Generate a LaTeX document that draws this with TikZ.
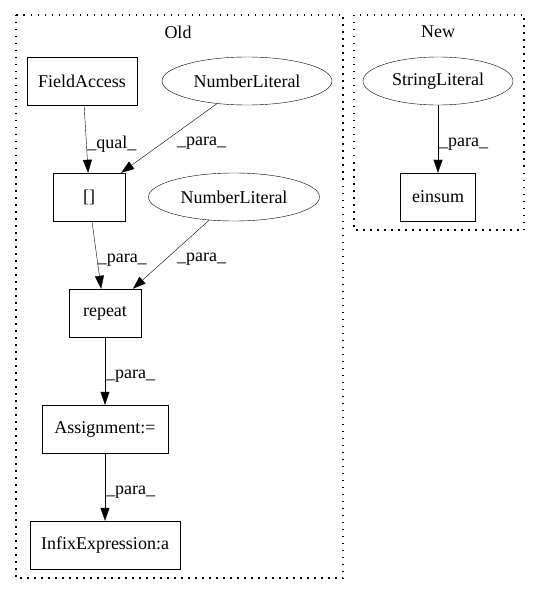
\documentclass[tikz,border=0pt]{standalone}
\usepackage{fontspec}
\setmainfont{Liberation Serif}
\usetikzlibrary{arrows.meta, shapes.geometric}
\tikzset{
	line width = 1.2pt,
	>={Triangle[length=13pt, width=9pt]},
	font = \fontsize{18}{21}\selectfont,
	box/.style={
		draw,
		rectangle,
		minimum height=48pt,
		inner sep=0pt
	},
	lit/.style={
		draw,
		ellipse,
		minimum height=48pt,
		inner sep=0pt
	},
	edge/.style={
		->
	},
	elabel/.style={
		right,
		inner sep=1pt,
		yshift=-5pt
	},
	cluster/.style={
		line width=1.2pt,
		dash pattern=on 1.5pt off 5.5pt
	}
}

\begin{document}
\begin{tikzpicture}[x=1pt, y=-1pt]
		\useasboundingbox (0,0) rectangle (540,596);

		% clusters
		\draw[cluster] (16,15) rectangle (343,578);
		\node (old) at (178,32) {Old};
		\draw[cluster] (354,15) rectangle (524,230);
		\node (new) at (438,32) {New};

		\node[box, minimum width=110pt] (fa) at (82,81) {FieldAccess};
		\node[lit, minimum width=170pt] (nl1) at (247,81) {NumberLiteral};
		\node[box, minimum width=72pt] (sq) at (89,197) {[]};
		\node[lit, minimum width=171pt] (nl2) at (234,197) {NumberLiteral};
		\node[box, minimum width=72pt] (rep) at (105,313) {repeat};
		\node[box, minimum width=126pt] (asg) at (105,429) {Assignment:=};
		\node[box, minimum width=150pt] (infix) at (105,545) {InfixExpression:a};

		\node[lit, minimum width=150pt] (sl) at (438,81) {StringLiteral};
		\node[box, minimum width=75pt] (ein) at (438,197) {einsum};

		\draw[edge] (fa.-85) -- (sq.92) node[elabel, midway] {\_qual\_};
		\draw[edge] (nl1.217) -- (sq.37) node[elabel, midway, xshift=7pt] {\_para\_};
		\draw[edge] (sq.-83) -- (rep.99) node[elabel, midway] {\_para\_};
		\draw[edge] (nl2.223) -- (rep.41) node[elabel, midway, xshift=5pt] {\_para\_};
		\draw[edge] (rep) -- (asg) node[elabel, midway] {\_para\_};
		\draw[edge] (asg) -- (infix) node[elabel, midway] {\_para\_};
		\draw[edge] (sl) -- (ein) node[elabel, midway] {\_para\_};
	\end{tikzpicture}
\end{document}
